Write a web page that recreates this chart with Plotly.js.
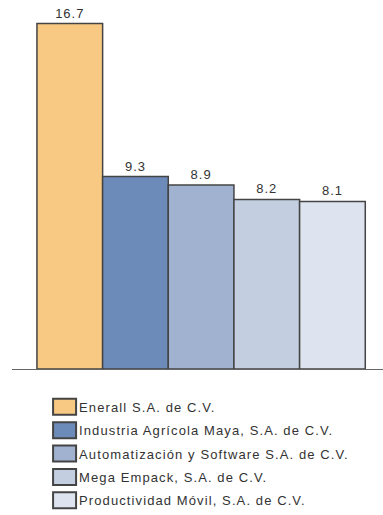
<!DOCTYPE html>
<html>
<head>
<meta charset="utf-8">
<script src="https://cdn.plot.ly/plotly-3.0.1.min.js"></script>
<style>
html,body{margin:0;padding:0;background:#fff;}
#chart{width:383px;height:515px;}
#chart .legendtext{letter-spacing:1.1px;}
#chart .bartext{letter-spacing:1px;}
#chart .legend .scrollbox{clip-path:none !important;}
#chart .legend{clip-path:none !important;}
</style>
</head>
<body>
<div id="chart"></div>
<script>
const companies = [
  "Enerall S.A. de C.V.",
  "Industria Agrícola Maya, S.A. de C.V.",
  "Automatización y Software S.A. de C.V.",
  "Mega Empack, S.A. de C.V.",
  "Productividad Móvil, S.A. de C.V."
];
const values = [16.7, 9.3, 8.9, 8.2, 8.1];
const colors = ["#F8C982", "#6D8BB8", "#A0B2D0", "#C4CEE1", "#DEE4EF"];

const traces = companies.map((name, i) => ({
  type: "bar",
  name: name,
  x: [name],
  y: [values[i]],
  width: 1,
  text: [values[i].toFixed(1)],
  textposition: "outside",
  cliponaxis: false,
  textfont: {family: "Liberation Sans, Arial, sans-serif", size: 13, color: "#333"},
  marker: {color: colors[i], line: {color: "#444", width: 1.5}},
  legendgroup: "g" + i,
  hoverinfo: "name+y"
}));

const layout = {
  width: 383,
  height: 515,
  margin: {l: 12, r: 0, t: 7, b: 146, autoexpand: false},
  paper_bgcolor: "#fff",
  plot_bgcolor: "#fff",
  barmode: "overlay",
  showlegend: true,
  font: {family: "Liberation Sans, Arial, sans-serif", color: "#333"},
  xaxis: {
    type: "category",
    categoryorder: "array",
    categoryarray: companies,
    range: [-0.88, 4.77],
    showticklabels: false,
    ticks: "",
    showgrid: false,
    zeroline: false,
    showline: true,
    linecolor: "#666",
    linewidth: 1,
    fixedrange: true
  },
  yaxis: {
    range: [0, 17.5],
    visible: false,
    showgrid: false,
    zeroline: false,
    fixedrange: true
  },
  legend: {
    x: 0.073,
    xanchor: "left",
    y: -0.063,
    yanchor: "top",
    orientation: "v",
    traceorder: "grouped",
    tracegroupgap: 3.5,
    font: {size: 13, color: "#333", family: "Liberation Sans, Arial, sans-serif"},
    bgcolor: "rgba(0,0,0,0)",
    itemclick: false,
    itemdoubleclick: false
  }
};

Plotly.newPlot("chart", traces, layout, {displayModeBar: false, staticPlot: true}).then(gd => {
  // enlarge legend swatches to match reference box size
  gd.querySelectorAll(".legend .legendpoints path").forEach(p => {
    p.setAttribute("d", "M17,8H-6V-8H17Z");
    p.style.strokeWidth = "2px";
  });
});
</script>
</body>
</html>
